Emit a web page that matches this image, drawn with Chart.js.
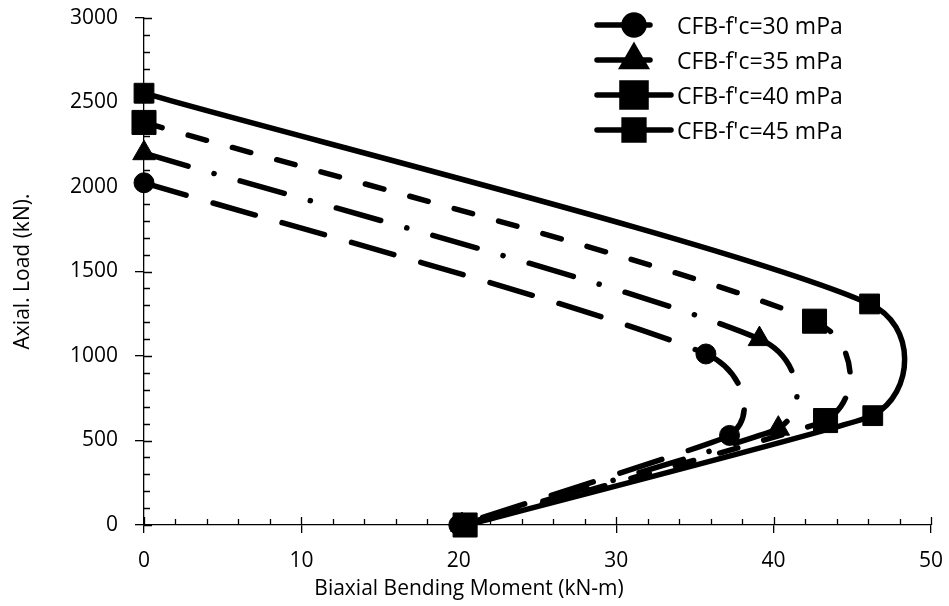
<!DOCTYPE html>
<html>
<head>
<meta charset="utf-8">
<script src="https://cdn.jsdelivr.net/npm/chart.js@4"></script>
<style>
  html, body { margin: 0; padding: 0; background: #fff; }
  canvas { display: block; }
</style>
</head>
<body>
<canvas id="c" width="949" height="606"></canvas>
<script>
// ---- data ----
const seriesLabels = ["CFB-f'c=30 mPa", "CFB-f'c=35 mPa", "CFB-f'c=40 mPa", "CFB-f'c=45 mPa"];
const momentF30 = [0, 35.7, 37.2, 20.0];
const loadF30   = [2025, 1012, 530, 0];
const momentF35 = [0, 39.1, 40.3, 20.2];
const loadF35   = [2200, 1100, 570, 0];
const momentF40 = [0, 42.6, 43.3, 20.4];
const loadF40   = [2382, 1206, 618, 0];
const momentF45 = [0, 46.1, 46.3, 20.5];
const loadF45   = [2555, 1308, 647, 0];
const xTicks = [0, 10, 20, 30, 40, 50];
const yTicks = [0, 500, 1000, 1500, 2000, 2500, 3000];

const pts = (xs, ys) => xs.map((v, i) => ({ x: v, y: ys[i] }));

const styles = [
  { dash: [44, 28], point: 'circle', r: 10 },
  { dash: [46, 27, 0.1, 27], point: 'triangle', r: 13 },
  { dash: [19, 27], point: 'rect', r: 17 },
  { dash: [], point: 'rect', r: 14 }
];
const seriesData = [pts(momentF30, loadF30), pts(momentF35, loadF35), pts(momentF40, loadF40), pts(momentF45, loadF45)];

const FONT = "'Open Sans', 'Liberation Sans', sans-serif";
const HIDE = 'rgba(0,0,0,0)';

// each series is drawn in three pieces (same data) so that each piece gets
// its own smoothing: upper branch, the bulge between markers, lower branch
const pieces = [
  { seg: 0, tension: 0.2, markers: false },
  { seg: 1, tension: 0.5, markers: true },
  { seg: 2, tension: 0.05, markers: false }
];

const datasets = [];
seriesData.forEach((d, i) => {
  pieces.forEach((p, k) => {
    datasets.push({
      label: seriesLabels[i] + (p.markers ? '' : ' part ' + k),
      data: d,
      showLine: true,
      borderColor: '#000',
      backgroundColor: '#000',
      borderWidth: 5.5,
      borderDash: styles[i].dash,
      borderCapStyle: 'round',
      tension: p.tension,
      pointStyle: styles[i].point,
      pointRadius: p.markers ? styles[i].r : 0,
      pointHoverRadius: p.markers ? styles[i].r : 0,
      pointBackgroundColor: '#000',
      pointBorderColor: '#000',
      pointBorderWidth: 1,
      segment: { borderColor: c => c.p0DataIndex === p.seg ? undefined : HIDE },
      clip: false,
      order: (p.markers ? 0 : 1) + (3 - i) * 2
    });
  });
});

const legendRows = [
  { y: 25, x1: 597, x2: 650 },
  { y: 60, x1: 597, x2: 650 },
  { y: 95, x1: 597, x2: 671 },
  { y: 130, x1: 597, x2: 671 }
];

const decor = {
  id: 'decor',
  afterDraw(chart) {
    const { ctx, scales: { x, y } } = chart;
    const axisY = x.top;
    const axisX = y.right;
    ctx.save();
    ctx.strokeStyle = '#000';
    ctx.lineWidth = 1.3;
    ctx.beginPath();
    for (let v = 0; v <= 50; v += 2) {
      const px = Math.round(x.getPixelForValue(v)) + 0.5;
      const len = (v % 10 === 0) ? 8 : 6;
      ctx.moveTo(px, axisY);
      ctx.lineTo(px, axisY - len);
    }
    for (let v = 0; v <= 3000; v += 100) {
      const py = Math.round(y.getPixelForValue(v)) + 0.5;
      const len = (v % 500 === 0) ? 8 : 6;
      ctx.moveTo(axisX, py);
      ctx.lineTo(axisX + len, py);
    }
    ctx.stroke();

    // legend
    legendRows.forEach((row, i) => {
      ctx.beginPath();
      ctx.setLineDash([]);
      ctx.lineCap = 'round';
      ctx.lineWidth = 5.5;
      ctx.moveTo(row.x1, row.y);
      ctx.lineTo(row.x2, row.y);
      ctx.stroke();
      ctx.fillStyle = '#000';
      Chart.helpers.drawPoint(ctx, {
        pointStyle: styles[i].point,
        radius: styles[i].r,
        rotation: 0,
        borderWidth: 1
      }, 634, row.y);
      ctx.fillStyle = '#000';
      ctx.font = "23px " + FONT;
      ctx.textBaseline = 'middle';
      ctx.textAlign = 'left';
      ctx.fillText(seriesLabels[i], 677, row.y + 2);
    });
    ctx.restore();
  }
};

new Chart(document.getElementById('c'), {
  type: 'scatter',
  data: { datasets },
  plugins: [decor],
  options: {
    responsive: false,
    animation: false,
    devicePixelRatio: 1,
    layout: { padding: { top: 15, right: 11, left: 0, bottom: 0 } },
    plugins: {
      legend: { display: false },
      tooltip: { enabled: false },
      title: {
        display: true,
        position: 'bottom',
        text: 'Biaxial Bending Moment (kN-m)',
        color: '#000',
        font: { family: FONT, size: 21, weight: 'normal', lineHeight: 1.2 },
        padding: { top: 0, bottom: 4 }
      }
    },
    scales: {
      x: {
        type: 'linear',
        min: 0, max: 50,
        afterFit(scale) { scale.height = 51.8; scale.paddingLeft = 0; scale.paddingRight = 0; },
        afterBuildTicks(scale) { scale.ticks = xTicks.map(v => ({ value: v })); },
        ticks: { color: '#000', font: { family: FONT, size: 21 }, padding: 15, maxRotation: 0, callback: v => String(v) },
        grid: { drawOnChartArea: false, drawTicks: true, tickLength: 8, color: '#000', lineWidth: 1.3 },
        border: { display: true, color: '#000', width: 1.3 }
      },
      y: {
        type: 'linear',
        min: 0, max: 3000,
        afterFit(scale) { scale.width = 144; scale.paddingTop = 0; scale.paddingBottom = 0; },
        afterBuildTicks(scale) { scale.ticks = yTicks.map(v => ({ value: v })); },
        ticks: { color: '#000', font: { family: FONT, size: 21 }, padding: 17, callback: v => String(v) },
        grid: { drawOnChartArea: false, drawTicks: true, tickLength: 9, color: '#000', lineWidth: 1.3 },
        border: { display: true, color: '#000', width: 1.3 },
        title: {
          display: true,
          text: 'Axial. Load (kN).',
          color: '#000',
          font: { family: FONT, size: 21, lineHeight: 1.2 },
          padding: { top: 10, bottom: 0 }
        }
      }
    }
  }
});
</script>
</body>
</html>
